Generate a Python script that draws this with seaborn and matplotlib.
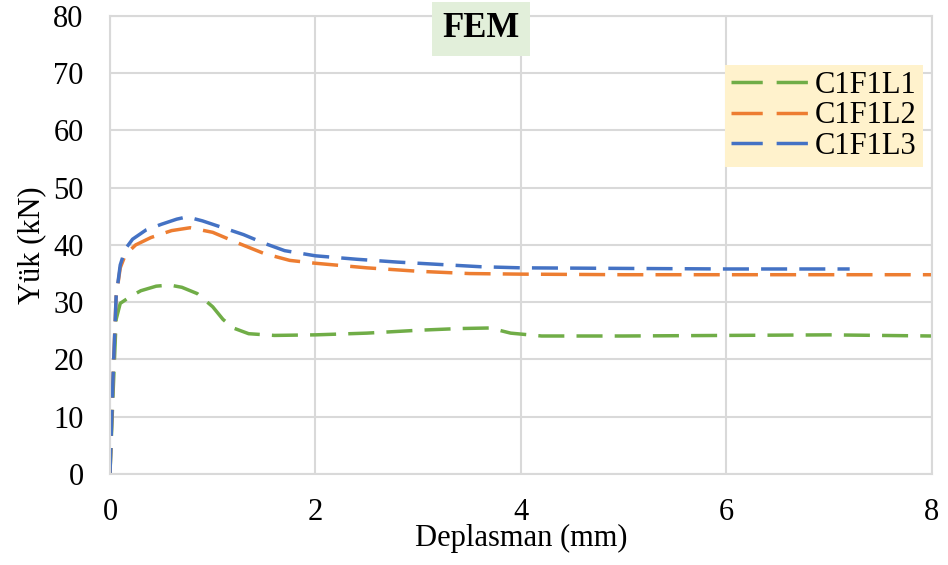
import numpy as np
import pandas as pd
import matplotlib.pyplot as plt
import seaborn as sns

# Veriler
x_l1 = [0, 0.03, 0.06, 0.1, 0.2, 0.3, 0.45, 0.58, 0.7, 0.85, 1.0, 1.1, 1.2, 1.35, 1.6,
        2.0, 2.5, 3.0, 3.4, 3.7, 3.9, 4.2, 5.0, 6.0, 7.0, 8.0]
y_l1 = [0, 14, 27, 29.8, 31.0, 32.0, 32.8, 33.0, 32.6, 31.5, 29.2, 27.0, 25.5, 24.5, 24.2,
        24.3, 24.6, 25.1, 25.4, 25.5, 24.6, 24.1, 24.1, 24.2, 24.3, 24.1]

x_l2 = [0, 0.03, 0.06, 0.1, 0.15, 0.25, 0.4, 0.6, 0.78, 1.0, 1.25, 1.5, 1.75, 2.0,
        2.5, 3.0, 3.5, 4.0, 5.0, 6.0, 7.0, 8.0]
y_l2 = [0, 17, 31, 36, 38.3, 40.0, 41.3, 42.5, 43.0, 42.2, 40.3, 38.5, 37.3, 36.8,
        36.0, 35.4, 35.0, 34.9, 34.8, 34.8, 34.8, 34.8]

x_l3 = [0, 0.03, 0.06, 0.1, 0.15, 0.22, 0.35, 0.5, 0.65, 0.75, 0.9, 1.1, 1.3, 1.5, 1.7,
        2.0, 2.4, 2.8, 3.2, 3.6, 4.0, 5.0, 6.0, 7.2]
y_l3 = [0, 17, 31, 36.5, 39.3, 41.0, 42.6, 43.6, 44.5, 44.9, 44.2, 43.0, 41.8, 40.3, 39.0,
        38.1, 37.5, 37.0, 36.6, 36.2, 36.0, 35.9, 35.8, 35.8]

series = ['C1F1L1', 'C1F1L2', 'C1F1L3']
COLORS = {'C1F1L1': '#70ad47', 'C1F1L2': '#ed7d31', 'C1F1L3': '#4472c4'}

df = pd.concat([
    pd.DataFrame({'x': x_l1, 'y': y_l1, 'seri': series[0]}),
    pd.DataFrame({'x': x_l2, 'y': y_l2, 'seri': series[1]}),
    pd.DataFrame({'x': x_l3, 'y': y_l3, 'seri': series[2]}),
], ignore_index=True)

sns.set_theme(style="whitegrid")
plt.rcParams['font.family'] = ['Liberation Serif', 'DejaVu Serif']

fig, ax = plt.subplots(figsize=(9.48, 5.65), dpi=100)
fig.subplots_adjust(left=0.116, right=0.983, bottom=0.161, top=0.972)

sns.lineplot(data=df, x='x', y='y', hue='seri', palette=COLORS, sort=False,
             estimator=None, dashes={s: (7.5, 3.5) for s in series}, style='seri',
             linewidth=2.5, ax=ax)

ax.set_xlim(0, 8)
ax.set_ylim(0, 80)
ax.set_xticks([0, 2, 4, 6, 8])
ax.set_yticks(np.arange(0, 81, 10))
ax.tick_params(axis='both', labelsize=22, length=0, colors='#000000')
ax.tick_params(axis='x', pad=17)
ax.tick_params(axis='y', pad=19)
ax.grid(True, color='#d9d9d9', linewidth=1.5)
for sp in ax.spines.values():
    sp.set_color('#d9d9d9')
    sp.set_linewidth(1.5)

ax.set_xlabel('Deplasman (mm)', fontsize=22, labelpad=-2, color='#000000')
ax.set_ylabel('Yük (kN)', fontsize=22, labelpad=5, color='#000000')

leg = ax.legend(loc='upper right', bbox_to_anchor=(0.989, 0.893), fontsize=22,
                frameon=True, facecolor='#fff2cc', edgecolor='none', framealpha=1,
                handlelength=2.6, handletextpad=0.15, borderpad=0.2, labelspacing=0.05,
                fancybox=False, borderaxespad=0)
for line in leg.get_lines():
    line.set_linewidth(2.5)
    line.set_dashes((9, 4))
for t in leg.get_texts():
    t.set_color('#000000')

ax.text(3.61, 77.7, 'FEM', fontsize=25, fontweight='bold', ha='center', va='center',
        color='#000000',
        bbox=dict(facecolor='#e2efda', edgecolor='none', boxstyle='square,pad=0.3'),
        zorder=5)

plt.savefig('out.png', dpi=100)
plt.close()
